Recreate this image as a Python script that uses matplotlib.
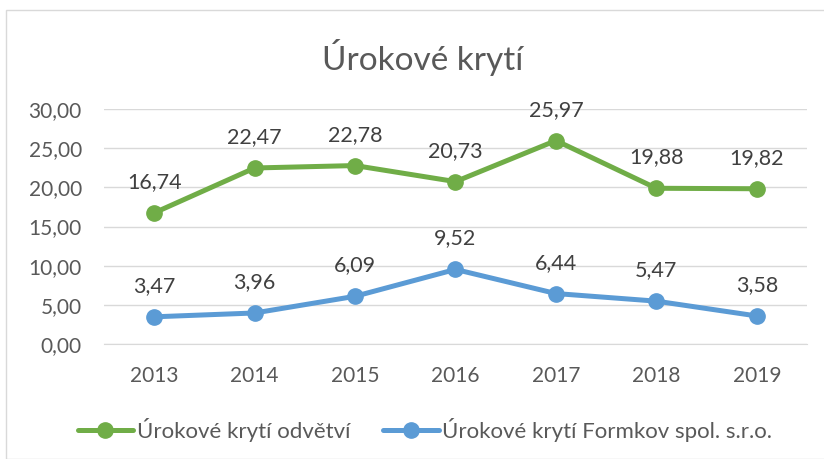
import matplotlib
matplotlib.use("Agg")
import matplotlib.pyplot as plt
from matplotlib.patches import Rectangle

years = ["2013", "2014", "2015", "2016", "2017", "2018", "2019"]
odvetvi = [16.74, 22.47, 22.78, 20.73, 25.97, 19.88, 19.82]
formkov = [3.47, 3.96, 6.09, 9.52, 6.44, 5.47, 3.58]
yticks = [0, 5, 10, 15, 20, 25, 30]

W, H = 824, 459
plt.rcParams['font.family'] = ['Lato', 'DejaVu Sans']
fig = plt.figure(figsize=(W/100, H/100), dpi=100)
fig.patch.set_facecolor('white')
fig.patches.append(Rectangle((6/W, 0), 1.2, 1 - 10/H, transform=fig.transFigure,
                             fill=False, edgecolor='#D9D9D9', linewidth=1.0))

ax = fig.add_axes([104/W, 1 - 344/H, (807-104)/W, (344-109)/H])
x = list(range(len(years)))
txt = '#595959'
for vals, col, lab in [(odvetvi, '#70AD47', 'Úrokové krytí odvětví'),
                       (formkov, '#5B9BD5', 'Úrokové krytí Formkov spol. s.r.o.')]:
    ax.plot(x, vals, color=col, lw=3.6, marker='o', ms=11, label=lab,
            solid_capstyle='round', zorder=3)
    for xi, v in zip(x, vals):
        ax.annotate(f"{v:.2f}".replace('.', ','), (xi, v), xytext=(0, 15),
                    textcoords='offset points', ha='center', va='bottom',
                    fontsize=15.5, color='#404040')

ax.set_xlim(-0.5, len(years) - 0.5)
ax.set_ylim(0, 30)
ax.set_yticks(yticks)
ax.set_yticklabels([f"{t:.2f}".replace('.', ',') for t in yticks])
ax.set_xticks(x)
ax.set_xticklabels(years)
ax.tick_params(length=0, labelsize=15, colors=txt)
ax.tick_params(axis='y', pad=16)
ax.tick_params(axis='x', pad=16)
ax.grid(axis='y', color='#D9D9D9', lw=1)
ax.set_axisbelow(True)
for s in ['top', 'right', 'left']:
    ax.spines[s].set_visible(False)
ax.spines['bottom'].set_color('#D9D9D9')

fig.text(423/W, 1 - 57/H, 'Úrokové krytí', ha='center', va='center', fontsize=24, color=txt)

fig.legend(loc='center', bbox_to_anchor=(425/W, 1 - 430/H), ncol=2, frameon=False,
           fontsize=16, labelcolor=txt, handlelength=2.5, columnspacing=1.5, handletextpad=0.15)

fig.savefig('out.png', dpi=100)
